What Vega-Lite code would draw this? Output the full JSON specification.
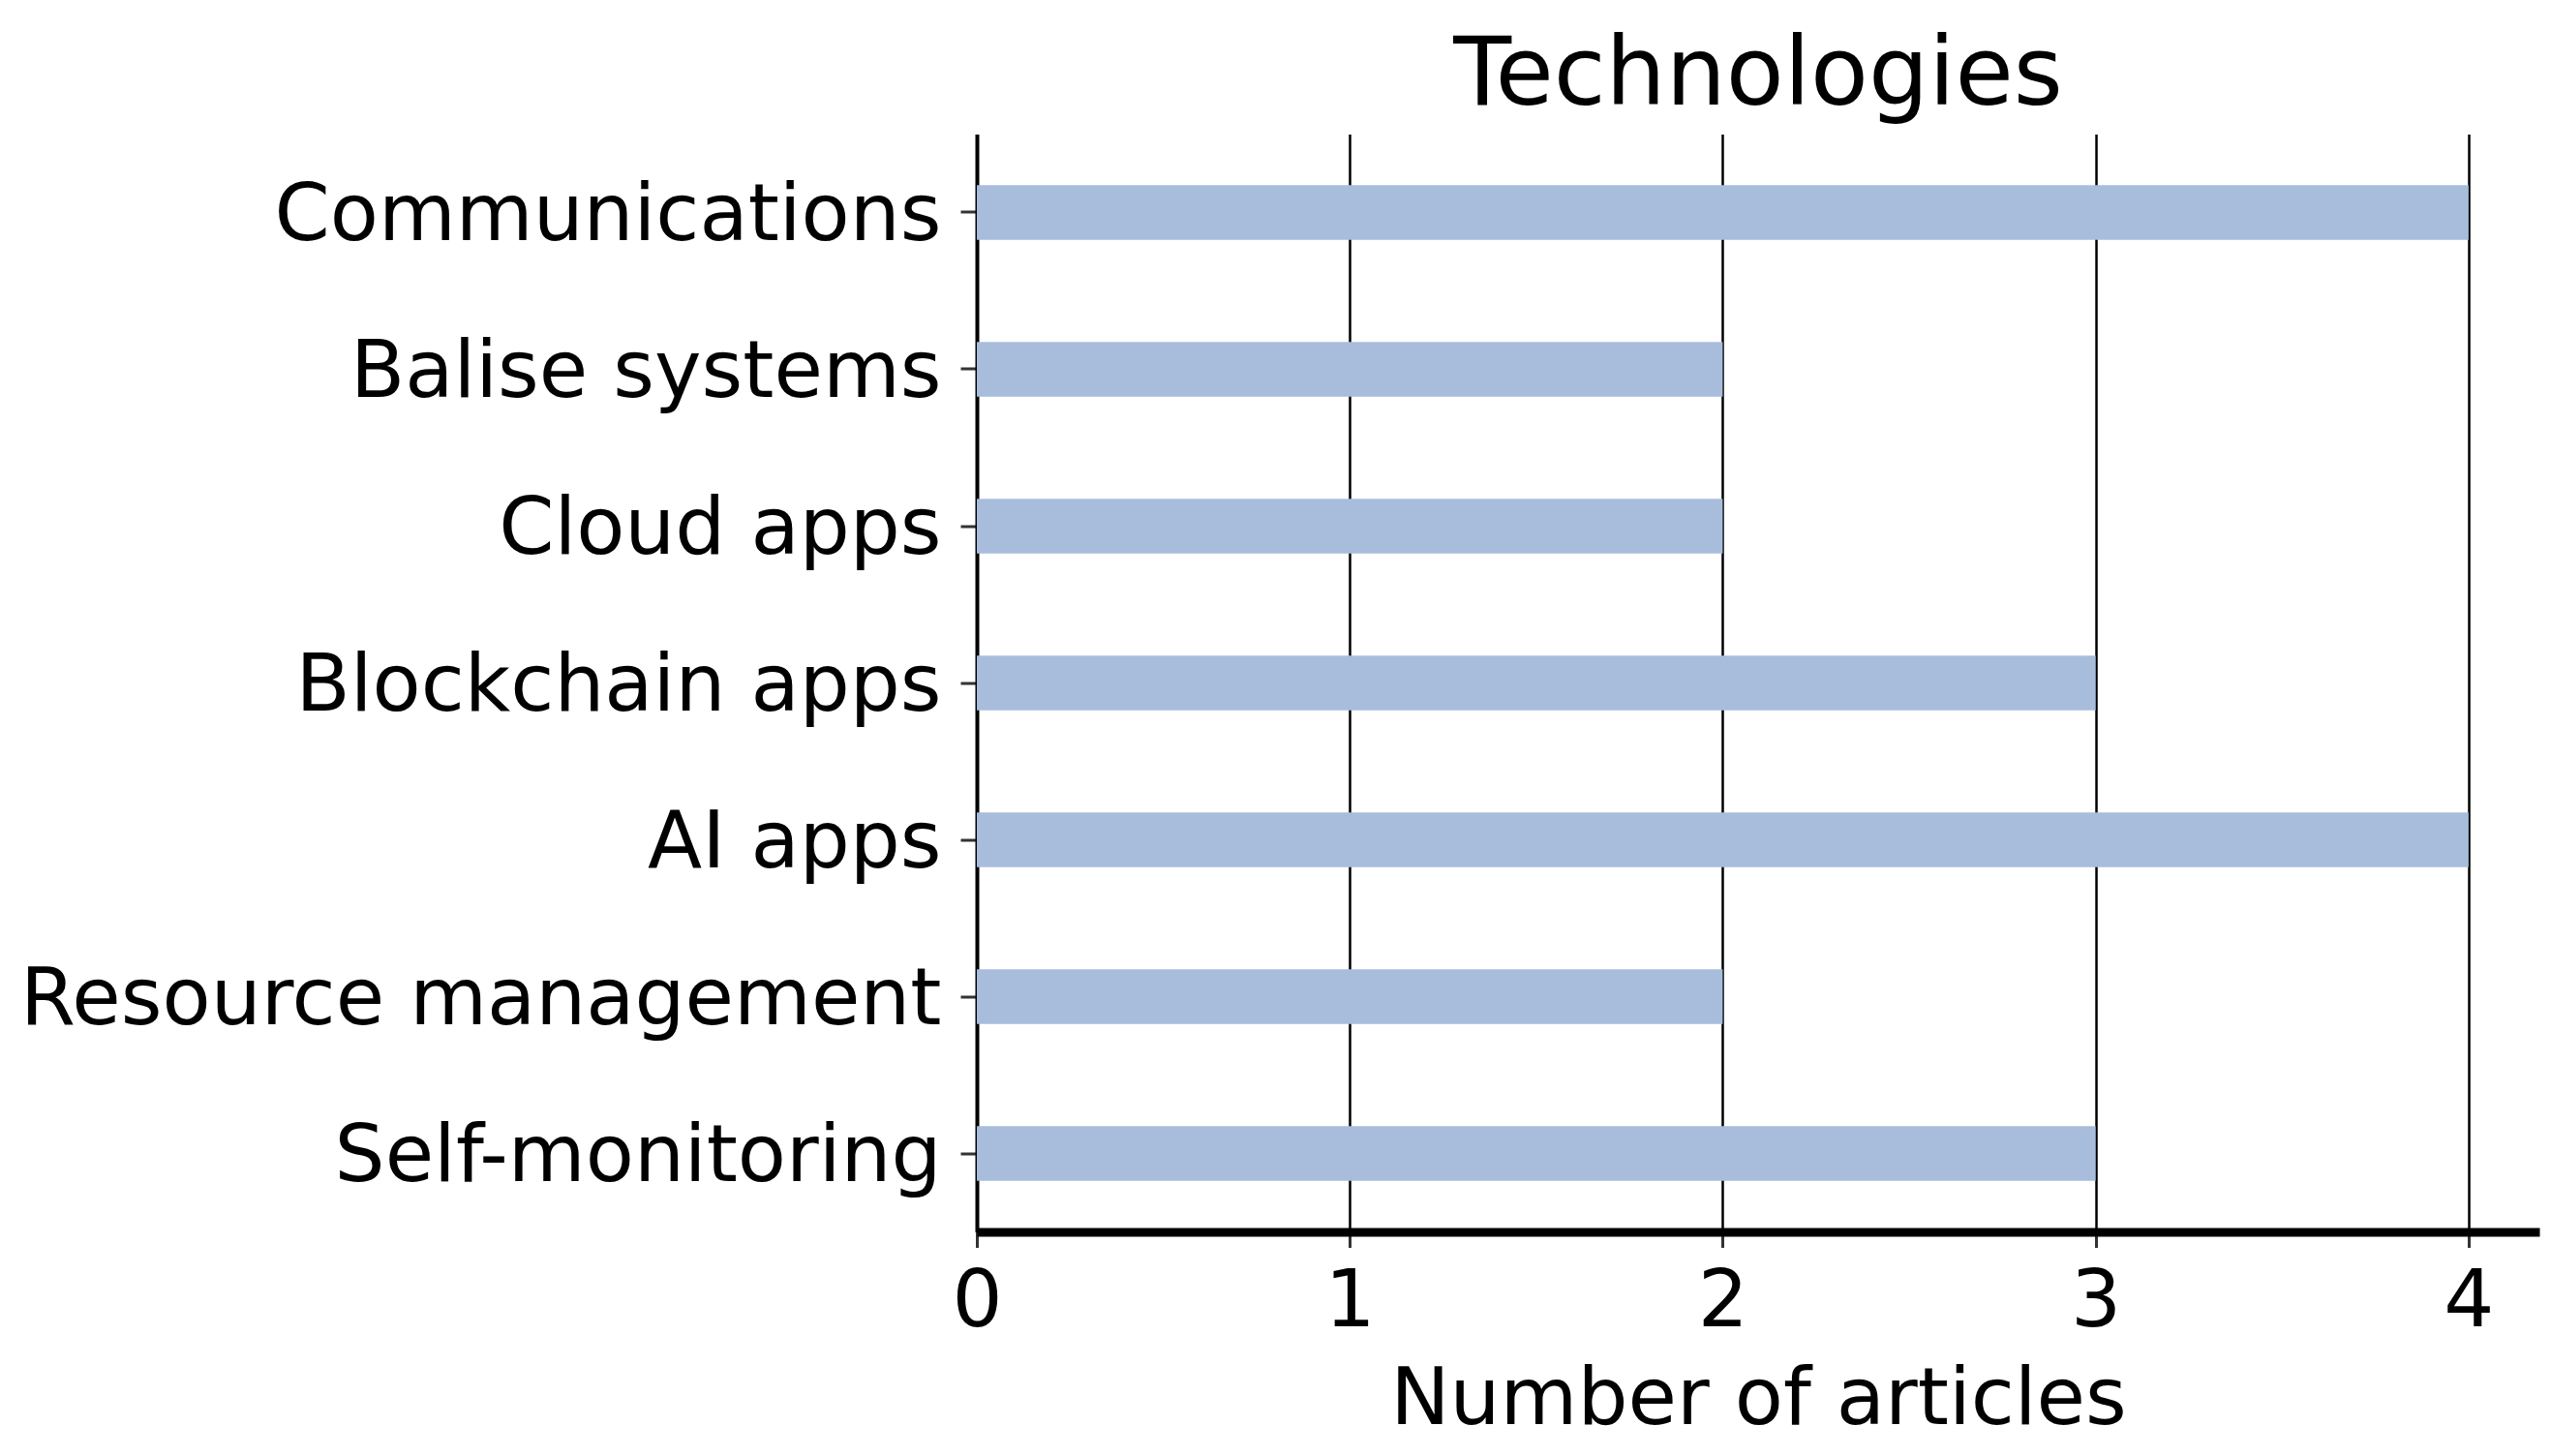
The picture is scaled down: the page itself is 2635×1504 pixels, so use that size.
{
  "$schema": "https://vega.github.io/schema/vega-lite/v6.json",
  "autosize": {"type": "none"},
  "padding": {"left": 1009, "top": 138.5, "right": 12, "bottom": 231},
  "width": 1614,
  "height": 1134,
  "background": "white",
  "title": {
    "text": "Technologies",
    "font": "DejaVu Sans",
    "fontSize": 98,
    "fontWeight": "normal",
    "color": "black",
    "anchor": "middle",
    "offset": 10
  },
  "data": {
    "values": [
      {"technology": "Communications", "articles": 4},
      {"technology": "Balise systems", "articles": 2},
      {"technology": "Cloud apps", "articles": 2},
      {"technology": "Blockchain apps", "articles": 3},
      {"technology": "AI apps", "articles": 4},
      {"technology": "Resource management", "articles": 2},
      {"technology": "Self-monitoring", "articles": 3}
    ]
  },
  "mark": {"type": "bar", "color": "#a8bddb"},
  "encoding": {
    "y": {
      "field": "technology",
      "type": "nominal",
      "sort": null,
      "scale": {"paddingInner": 0.65, "paddingOuter": 0.325},
      "axis": {
        "title": null,
        "labelFont": "DejaVu Sans",
        "labelFontSize": 82,
        "labelColor": "black",
        "labelPadding": 20,
        "labelOffset": 3,
        "labelLimit": 1200,
        "tickSize": 17,
        "tickWidth": 3,
        "tickColor": "#333333",
        "domainColor": "black",
        "domainWidth": 4,
        "grid": false
      }
    },
    "x": {
      "field": "articles",
      "type": "quantitative",
      "scale": {"domain": [0, 4.19], "nice": false, "zero": true},
      "axis": {
        "title": "Number of articles",
        "titleFont": "DejaVu Sans",
        "titleFontSize": 82,
        "titleFontWeight": "normal",
        "titleColor": "black",
        "titlePadding": 20,
        "values": [0, 1, 2, 3, 4],
        "format": "d",
        "labelFont": "DejaVu Sans",
        "labelFontSize": 82,
        "labelColor": "black",
        "labelPadding": 16,
        "labelFlush": false,
        "tickSize": 16,
        "tickWidth": 3,
        "tickColor": "#333333",
        "domainColor": "black",
        "domainWidth": 9,
        "grid": true,
        "gridColor": "black",
        "gridWidth": 2.5,
        "gridOpacity": 1
      }
    }
  },
  "config": {
    "view": {"stroke": null}
  }
}
